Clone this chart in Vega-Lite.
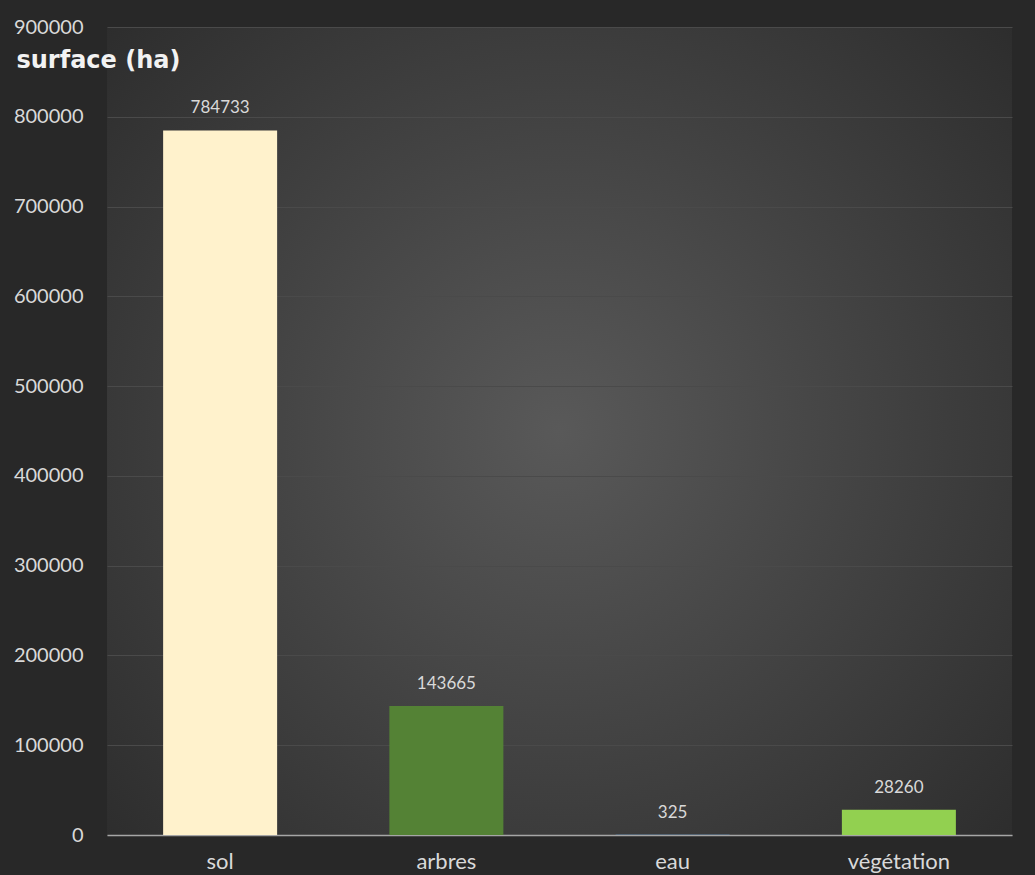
{
  "$schema": "https://vega.github.io/schema/vega-lite/v6.json",
  "width": 905,
  "height": 808,
  "autosize": "none",
  "padding": {"left": 107, "top": 27, "right": 23, "bottom": 40},
  "background": "#282828",
  "config": {
    "font": "Lato",
    "view": {
      "stroke": null,
      "fill": {
        "gradient": "radial",
        "x1": 0.5, "y1": 0.5, "r1": 0,
        "x2": 0.5, "y2": 0.5, "r2": 0.75,
        "stops": [
          {"offset": 0, "color": "#595959"},
          {"offset": 1, "color": "#282828"}
        ]
      }
    }
  },
  "data": {
    "values": [
      {"type": "sol", "surface": 784733},
      {"type": "arbres", "surface": 143665},
      {"type": "eau", "surface": 325},
      {"type": "végétation", "surface": 28260}
    ]
  },
  "encoding": {
    "x": {
      "field": "type",
      "type": "nominal",
      "sort": null,
      "scale": {"paddingInner": 0, "paddingOuter": 0},
      "axis": {
        "title": null,
        "labelAngle": 0,
        "labelFontSize": 22,
        "labelColor": "#d9d9d9",
        "labelPadding": 16,
        "ticks": false,
        "domainColor": "#a6a6a6",
        "domainWidth": 1.5,
        "grid": false
      }
    },
    "y": {
      "field": "surface",
      "type": "quantitative",
      "scale": {"domain": [0, 900000], "nice": false},
      "axis": {
        "values": [0, 100000, 200000, 300000, 400000, 500000, 600000, 700000, 800000, 900000],
        "format": "d",
        "labelFontSize": 20,
        "labelColor": "#d9d9d9",
        "labelPadding": 24,
        "ticks": false,
        "domain": false,
        "gridColor": "#4a4a4a",
        "gridWidth": 1,
        "title": "surface (ha)",
        "titleAngle": 0,
        "titleAlign": "left",
        "titleBaseline": "alphabetic",
        "titleX": -91,
        "titleY": 40,
        "titleFont": "DejaVu Sans",
        "titleFontWeight": "bold",
        "titleFontSize": 24,
        "titleColor": "#f2f2f2"
      }
    }
  },
  "layer": [
    {
      "mark": {"type": "bar", "width": 114},
      "encoding": {
        "color": {
          "field": "type",
          "type": "nominal",
          "scale": {
            "domain": ["sol", "arbres", "eau", "végétation"],
            "range": ["#fff2cc", "#548235", "#5b9bd5", "#92d050"]
          },
          "legend": null
        }
      }
    },
    {
      "mark": {"type": "text", "baseline": "alphabetic", "dy": -17, "fontSize": 17, "color": "#d9d9d9"},
      "encoding": {
        "text": {"field": "surface", "type": "quantitative", "format": "d"}
      }
    }
  ]
}
